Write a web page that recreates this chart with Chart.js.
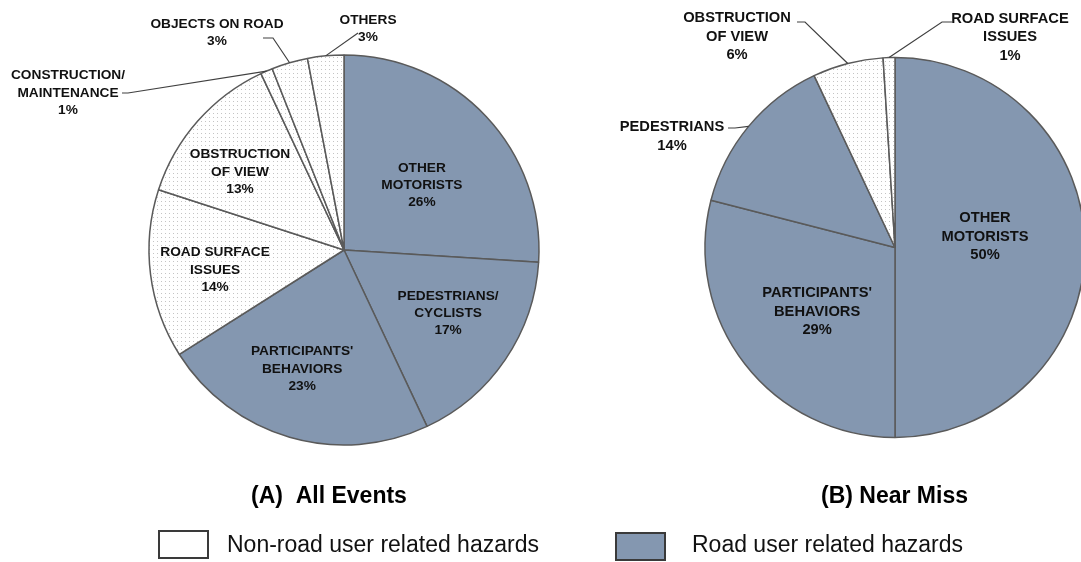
<!DOCTYPE html>
<html>
<head>
<meta charset="utf-8">
<script src="https://cdn.jsdelivr.net/npm/chart.js@4.4.1/dist/chart.umd.min.js"></script>
<style>
  html, body { margin:0; padding:0; background:#fff; }
  #wrap { position:relative; width:1081px; height:562px; overflow:hidden; font-family:"Liberation Sans", Arial, sans-serif; }
  canvas { position:absolute; left:0; top:0; }
  .title { position:absolute; font-weight:bold; font-size:23px; color:#000; white-space:nowrap; line-height:1; }
  .legtxt { position:absolute; font-size:23px; color:#111; white-space:nowrap; line-height:1; }
  .legbox { position:absolute; box-sizing:border-box; border:2px solid #3a3a3a; }
</style>
</head>
<body>
<div id="wrap">
  <canvas id="pieA" width="1081" height="562"></canvas>
  <canvas id="pieB" width="1081" height="562"></canvas>
  <div class="title" style="left:251px; top:484px;">(A)&nbsp;&nbsp;All Events</div>
  <div class="title" style="left:821px; top:484px;">(B) Near Miss</div>
  <div class="legbox" style="left:158px; top:530px; width:51px; height:29px; background:#fff;"></div>
  <div class="legtxt" style="left:227px; top:533px;">Non-road user related hazards</div>
  <div class="legbox" style="left:615px; top:532px; width:51px; height:29px; background:#8497b0;"></div>
  <div class="legtxt" style="left:692px; top:533px;">Road user related hazards</div>
</div>
<script>
// ---------- DATA ----------
const namesA = [["OTHER","MOTORISTS"],["PEDESTRIANS/","CYCLISTS"],["PARTICIPANTS'","BEHAVIORS"],["ROAD SURFACE","ISSUES"],["OBSTRUCTION","OF VIEW"],["CONSTRUCTION/","MAINTENANCE"],["OBJECTS ON ROAD"],["OTHERS"]];
const valuesA = [26, 17, 23, 14, 13, 1, 3, 3];
const groupA = ["road","road","road","non","non","non","non","non"];

const namesB = [["OTHER","MOTORISTS"],["PARTICIPANTS'","BEHAVIORS"],["PEDESTRIANS"],["OBSTRUCTION","OF VIEW"],["ROAD SURFACE","ISSUES"]];
const valuesB = [50, 29, 14, 6, 1];
const groupB = ["road","road","road","non","non"];

// ---------- STYLE / LAYOUT ----------
const ROAD_COLOR = "#8497b0";
function dotPattern() {
  const c = document.createElement("canvas");
  c.width = 4; c.height = 4;
  const g = c.getContext("2d");
  g.fillStyle = "#ffffff"; g.fillRect(0,0,4,4);
  g.fillStyle = "#c4c4c4"; g.fillRect(1,1,1,1);
  return g.createPattern(c, "repeat");
}
const PAT = dotPattern();
const fillFor = g => g === "road" ? ROAD_COLOR : PAT;

// label placement (relative to pie centre); 'in' = polar offset from slice middle
const placeA = [
  {type:"in", f:0.52,  da:3.4},
  {type:"in", f:0.624, da:-3},
  {type:"in", f:0.646, da:3.2},
  {type:"in", f:0.669, da:-1.6},
  {type:"in", f:0.667, da:-4.5},
  {type:"out", text:[-276,-157], elbow:[-216,-157], end:[-222,-157]},
  {type:"out", text:[-127,-217.5], elbow:[-71,-212], end:[-81,-212]},
  {type:"out", text:[24,-221.5], elbow:[14,-217], end:[14,-217]}
];
const placeB = [
  {type:"in", f:0.477, da:-6.7},
  {type:"in", f:0.532, da:-1.8},
  {type:"out", text:[-223,-111], elbow:[-160,-119.5], end:[-167,-119.5]},
  {type:"out", text:[-158,-211], elbow:[-90,-225.5], end:[-98,-225.5]},
  {type:"out", text:[115,-210.5], elbow:[47,-225.5], end:[57,-225.5]}
];

const pieLabels = {
  id: "pieLabels",
  afterDatasetsDraw(chart, args, opts) {
    const ctx = chart.ctx;
    const meta = chart.getDatasetMeta(0);
    const ds = chart.data.datasets[0];
    ctx.save();
    meta.data.forEach((arc, i) => {
      const {x, y, startAngle, endAngle, outerRadius} =
        arc.getProps(["x","y","startAngle","endAngle","outerRadius"], true);
      const mid = (startAngle + endAngle) / 2;
      const p = opts.place[i];
      const lines = opts.names[i].concat([ds.data[i] + "%"]);
      let tx, ty;
      if (p.type === "in") {
        const a = mid + p.da * Math.PI / 180;
        tx = x + Math.cos(a) * outerRadius * p.f;
        ty = y + Math.sin(a) * outerRadius * p.f;
      } else {
        tx = x + p.text[0]; ty = y + p.text[1];
        ctx.beginPath();
        ctx.strokeStyle = "#404040";
        ctx.lineWidth = 1.2;
        ctx.moveTo(x + Math.cos(mid) * outerRadius, y + Math.sin(mid) * outerRadius);
        ctx.lineTo(x + p.elbow[0], y + p.elbow[1]);
        ctx.lineTo(x + p.end[0], y + p.end[1]);
        ctx.stroke();
      }
      ctx.font = "bold " + opts.fontSize + "px 'Liberation Sans', Arial, sans-serif";
      ctx.fillStyle = "#111";
      ctx.textAlign = "center";
      ctx.textBaseline = "middle";
      const n = lines.length;
      lines.forEach((t, k) => {
        ctx.fillText(t, tx, ty + (k - (n - 1) / 2) * opts.lineH);
      });
    });
    ctx.restore();
  }
};

function makePie(id, names, values, groups, place, radius, padding, fontSize, lineH) {
  return new Chart(document.getElementById(id), {
    type: "pie",
    data: {
      labels: names.map(n => n.join(" ")),
      datasets: [{
        data: values,
        backgroundColor: groups.map(fillFor),
        borderColor: "#5a5a5a",
        borderWidth: 1.5,
        radius: radius,
        clip: false
      }]
    },
    options: {
      responsive: false,
      animation: false,
      layout: { padding: padding },
      plugins: {
        legend: { display: false },
        tooltip: { enabled: false },
        pieLabels: { names: names, place: place, fontSize: fontSize, lineH: lineH }
      }
    },
    plugins: [pieLabels]
  });
}

makePie("pieA", namesA, valuesA, groupA, placeA, 195,
        {left:0, right:393, top:0, bottom:62}, 13.7, 17.3);
makePie("pieB", namesB, valuesB, groupB, placeB, 190,
        {left:709, right:0, top:0, bottom:67}, 14.7, 18.5);
</script>
</body>
</html>
